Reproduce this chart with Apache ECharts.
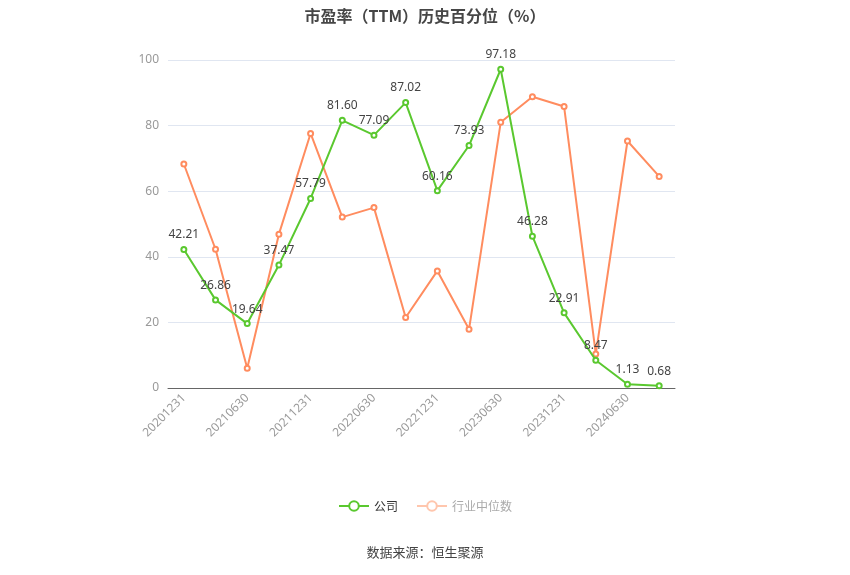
<!DOCTYPE html>
<html><head><meta charset="utf-8">
<script src="https://cdn.jsdelivr.net/npm/echarts@6/dist/echarts.min.js"></script>
<style>html,body{margin:0;padding:0;background:#fff}#c{width:850px;height:575px}</style>
</head><body><div id="c"></div>
<script>
const categories = ['20201231','20210331','20210630','20210930','20211231','20220331','20220630','20220930','20221231','20230331','20230630','20230930','20231231','20240331','20240630','20240930'];
const companyValues = [42.21,26.86,19.64,37.47,57.79,81.60,77.09,87.02,60.16,73.93,97.18,46.28,22.91,8.47,1.13,0.68];
const industryValues = [68.3,42.3,6.0,46.9,77.6,52.1,55.0,21.5,35.7,17.9,81.0,88.8,85.8,10.4,75.3,64.5];
const yTicks = {min:0,max:100,interval:20};

const chart = echarts.init(document.getElementById('c'));
chart.setOption({
  animation:false,
  title:{text:'市盈率（TTM）历史百分位（%）',left:'center',top:3,textStyle:{fontSize:16,fontWeight:'bold',color:'#464646',fontFamily:'Noto Sans CJK SC'}},
  grid:{left:168,right:175,top:60,bottom:187},
  legend:{bottom:58,left:'center',itemGap:18,itemWidth:30,itemHeight:12,textStyle:{color:'#333',fontSize:12,fontFamily:'Noto Sans CJK SC'},
    data:[{name:'公司'},{name:'行业中位数',textStyle:{color:'#aaa'},itemStyle:{color:'#ffc6ad',borderColor:'#ffc6ad'},lineStyle:{color:'#ffc6ad'}}]},
  graphic:[{type:'text',left:'center',top:546,style:{text:'数据来源：恒生聚源',fill:'#444',fontSize:13,fontFamily:'Noto Sans CJK SC'}}],
  xAxis:{type:'category',data:categories,boundaryGap:true,
    axisLine:{lineStyle:{color:'#666'}},
    axisTick:{alignWithLabel:true,interval:1,lineStyle:{color:'#666'}},
    axisLabel:{interval:1,rotate:45,color:'#999',fontSize:12,fontFamily:'Noto Sans'}},
  yAxis:{type:'value',min:yTicks.min,max:yTicks.max,interval:yTicks.interval,
    axisLine:{show:false},axisTick:{show:false},
    axisLabel:{color:'#999',fontSize:12,margin:9,fontFamily:'Noto Sans'},
    splitLine:{lineStyle:{color:'#e0e6f1'}}},
  series:[
    {name:'公司',type:'line',data:companyValues,symbol:'emptyCircle',symbolSize:5,
      itemStyle:{color:'#5ac82f'},lineStyle:{width:2,color:'#5ac82f'},
      label:{show:true,position:'top',color:'#444',fontSize:12,fontFamily:'Noto Sans',formatter:p=>p.value.toFixed(2)},z:3},
    {name:'行业中位数',type:'line',data:industryValues,symbol:'emptyCircle',symbolSize:5,
      itemStyle:{color:'#ff8c5f'},lineStyle:{width:2,color:'#ff8c5f'},z:2}
  ]
});
</script></body></html>
